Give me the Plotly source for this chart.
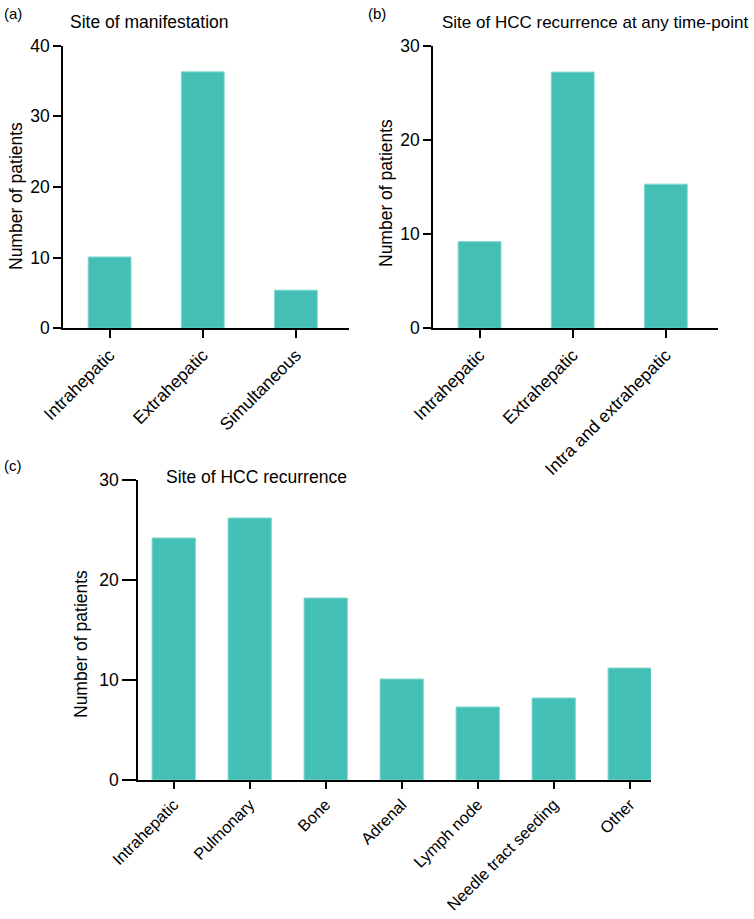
import plotly.graph_objects as go

# ---- data ----
cats_a = ["Intrahepatic", "Extrahepatic", "Simultaneous"]
vals_a = [10.1, 36.3, 5.4]
cats_b = ["Intrahepatic", "Extrahepatic", "Intra and extrahepatic"]
vals_b = [9.2, 27.2, 15.3]
cats_c = ["Intrahepatic", "Pulmonary", "Bone", "Adrenal", "Lymph node",
          "Needle tract seeding", "Other"]
vals_c = [24.2, 26.2, 18.2, 10.1, 7.3, 8.2, 11.2]
ticks_a = [0, 10, 20, 30, 40]
ticks_b = [0, 10, 20, 30]
ticks_c = [0, 10, 20, 30]

W, H = 754, 919
FONT = "Liberation Sans, Arial, Helvetica, sans-serif"
BAR = "#44bfb6"
EDGE = "#86d9d2"
FS = 17.5


def px(x):
    return x / W


def py(y):
    return 1 - y / H


fig = go.Figure()
fig.add_trace(go.Bar(x=list(range(len(cats_a))), y=vals_a, width=0.46,
                     marker=dict(color=BAR, line=dict(color=EDGE, width=1)),
                     xaxis="x", yaxis="y", showlegend=False))
fig.add_trace(go.Bar(x=list(range(len(cats_b))), y=vals_b, width=0.46,
                     marker=dict(color=BAR, line=dict(color=EDGE, width=1)),
                     xaxis="x2", yaxis="y2", showlegend=False))
fig.add_trace(go.Bar(x=list(range(len(cats_c))), y=vals_c, width=0.57,
                     marker=dict(color=BAR, line=dict(color=EDGE, width=1)),
                     xaxis="x3", yaxis="y3", showlegend=False))


def axis_common(fs=FS):
    return dict(showline=True, linecolor="black", linewidth=1.5,
                ticks="outside", tickcolor="black", tickwidth=1.5,
                showgrid=False, zeroline=False, automargin=False,
                tickfont=dict(family=FONT, size=fs, color="black"))


fig.update_layout(
    width=W, height=H, autosize=False,
    margin=dict(l=0, r=0, t=0, b=0, autoexpand=False),
    paper_bgcolor="white", plot_bgcolor="white",
    font=dict(family=FONT, size=FS, color="black"),
    xaxis=dict(domain=[px(63), px(349)], anchor="y", range=[-0.5, 2.57],
               tickmode="array", tickvals=list(range(len(cats_a))), ticktext=cats_a,
               tickangle=-45, ticklen=8, **axis_common()),
    yaxis=dict(domain=[py(328.3), py(45.7)], anchor="x", range=[0, 40],
               tickmode="array", tickvals=ticks_a, ticklen=8, **axis_common()),
    xaxis2=dict(domain=[px(433), px(718)], anchor="y2", range=[-0.5, 2.56],
                tickmode="array", tickvals=list(range(len(cats_b))), ticktext=cats_b,
                tickangle=-45, ticklen=8, **axis_common()),
    yaxis2=dict(domain=[py(328.3), py(45.7)], anchor="x2", range=[0, 30],
                tickmode="array", tickvals=ticks_b, ticklen=8, **axis_common()),
    xaxis3=dict(domain=[px(138), px(651)], anchor="y3", range=[-0.47, 6.28],
                tickmode="array", tickvals=list(range(len(cats_c))), ticktext=cats_c,
                tickangle=-45, ticklen=7, **axis_common(16.3)),
    yaxis3=dict(domain=[py(780), py(480)], anchor="x3", range=[0, 30],
                tickmode="array", tickvals=ticks_c, ticklen=14, **axis_common()),
)

annotations = [
    dict(text="(a)", x=px(2), y=py(13), xanchor="left", yanchor="middle", font=dict(size=15)),
    dict(text="(b)", x=px(366), y=py(13), xanchor="left", yanchor="middle", font=dict(size=15)),
    dict(text="(c)", x=px(2), y=py(465), xanchor="left", yanchor="middle", font=dict(size=15)),
    dict(text="Site of manifestation", x=px(68), y=py(22), xanchor="left", yanchor="middle"),
    dict(text="Site of HCC recurrence at any time-point", x=px(440), y=py(22),
         xanchor="left", yanchor="middle", font=dict(size=17)),
    dict(text="Site of HCC recurrence", x=px(164), y=py(477), xanchor="left", yanchor="middle"),
    dict(text="Number of patients", x=px(16), y=py(196), textangle=-90,
         xanchor="center", yanchor="middle"),
    dict(text="Number of patients", x=px(386), y=py(193), textangle=-90,
         xanchor="center", yanchor="middle"),
    dict(text="Number of patients", x=px(81), y=py(644), textangle=-90,
         xanchor="center", yanchor="middle"),
]
for a in annotations:
    a.update(xref="paper", yref="paper", showarrow=False)
    a.setdefault("font", {})
    a["font"] = dict(family=FONT, color="black", size=a["font"].get("size", FS))
fig.update_layout(annotations=annotations)

fig.write_html("out.html", config={"displayModeBar": False},
               post_script="document.body.style.margin='0';document.body.style.padding='0';")
